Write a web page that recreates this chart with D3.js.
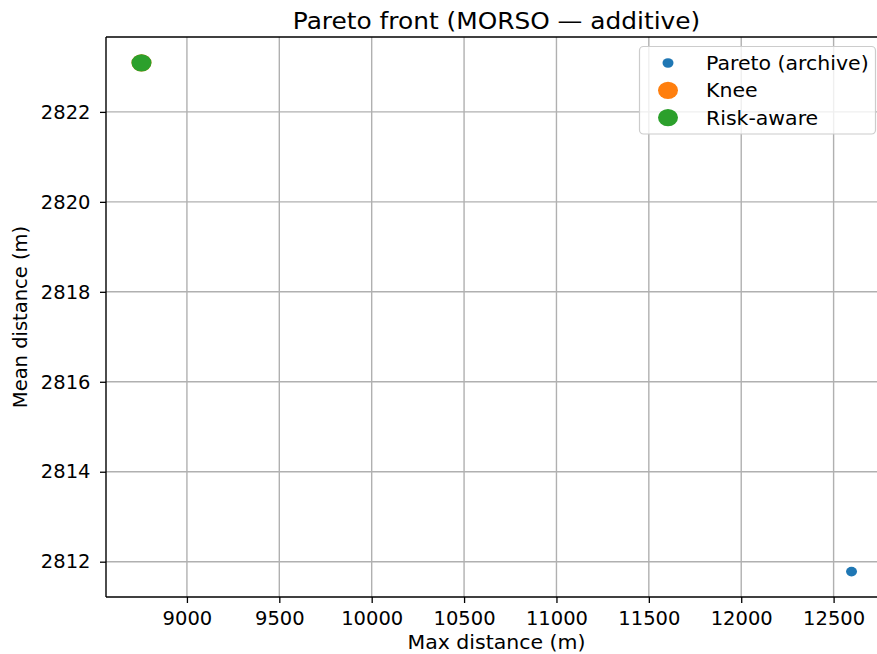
<!DOCTYPE html>
<html>
<head>
<meta charset="utf-8">
<script src="https://cdn.jsdelivr.net/npm/d3@7"></script>
<style>
  html, body { margin: 0; padding: 0; background: #fff; }
  svg { display: block; font-family: "DejaVu Sans", sans-serif; }
</style>
</head>
<body>
<svg id="chart" width="877" height="654"></svg>
<script>
// Objective values (max distance, mean distance) for each group of solutions
const paretoMax = [12597];
const paretoMean = [2811.78];
const kneeMax = [8754];
const kneeMean = [2823.09];
const riskMax = [8754];
const riskMean = [2823.09];

const xTicks = [9000, 9500, 10000, 10500, 11000, 11500, 12000, 12500];
const yTicks = [2812, 2814, 2816, 2818, 2820, 2822];

const colors = { pareto: "#1f77b4", knee: "#ff7f0e", risk: "#2ca02c" };
const legendItems = [
  { label: "Pareto (archive)", color: colors.pareto, rx: 5.5, ry: 4.8 },
  { label: "Knee", color: colors.knee, rx: 10, ry: 8.6 },
  { label: "Risk-aware", color: colors.risk, rx: 10, ry: 8.6 }
];

const svg = d3.select("#chart");
const plotL = 106, plotR = 887, plotT = 37, plotB = 597;

const x = d3.scaleLinear().domain([8562, 12789]).range([plotL, plotR]);
const y = d3.scaleLinear().domain([2811.215, 2823.665]).range([plotB, plotT]);

// grid
const grid = svg.append("g");
grid.selectAll("line.vx").data(xTicks).join("line")
  .attr("x1", d => x(d)).attr("x2", d => x(d))
  .attr("y1", plotT).attr("y2", plotB)
  .attr("stroke", "#b0b0b0").attr("stroke-width", 1.4);
grid.selectAll("line.hy").data(yTicks).join("line")
  .attr("x1", plotL).attr("x2", plotR)
  .attr("y1", d => y(d)).attr("y2", d => y(d))
  .attr("stroke", "#b0b0b0").attr("stroke-width", 1.4);

// axes
const xAxis = d3.axisBottom(x).tickValues(xTicks).tickSize(6).tickPadding(8).tickFormat(d3.format("d"));
const yAxis = d3.axisLeft(y).tickValues(yTicks).tickSize(6).tickPadding(9.5).tickFormat(d3.format("d"));

const gx = svg.append("g").attr("transform", `translate(0,${plotB})`).call(xAxis);
const gy = svg.append("g").attr("transform", `translate(${plotL},0)`).call(yAxis);
[gx, gy].forEach(g => {
  g.select(".domain").remove();
  g.selectAll(".tick line").attr("stroke", "#000").attr("stroke-width", 1.3);
  g.selectAll(".tick text").attr("fill", "#000").style("font-size", "19.5px")
    .style("font-family", "DejaVu Sans, sans-serif");
});

// spines
svg.append("line").attr("x1", plotL).attr("x2", plotL).attr("y1", plotT).attr("y2", plotB)
  .attr("stroke", "#000").attr("stroke-width", 1.4);
svg.append("line").attr("x1", plotL).attr("x2", plotR).attr("y1", plotB).attr("y2", plotB)
  .attr("stroke", "#000").attr("stroke-width", 1.4);
svg.append("line").attr("x1", plotL).attr("x2", plotR).attr("y1", plotT).attr("y2", plotT)
  .attr("stroke", "#000").attr("stroke-width", 1.4);

// points
const pts = svg.append("g");
pts.selectAll("ellipse.p").data(paretoMax.map((d, i) => [d, paretoMean[i]])).join("ellipse")
  .attr("cx", d => x(d[0])).attr("cy", d => y(d[1])).attr("rx", 5.5).attr("ry", 4.8)
  .attr("fill", colors.pareto);
pts.selectAll("ellipse.k").data(kneeMax.map((d, i) => [d, kneeMean[i]])).join("ellipse")
  .attr("cx", d => x(d[0])).attr("cy", d => y(d[1])).attr("rx", 10).attr("ry", 8.6)
  .attr("fill", colors.knee);
pts.selectAll("ellipse.r").data(riskMax.map((d, i) => [d, riskMean[i]])).join("ellipse")
  .attr("cx", d => x(d[0])).attr("cy", d => y(d[1])).attr("rx", 10).attr("ry", 8.6)
  .attr("fill", colors.risk);

// title and axis labels (slightly widened glyphs)
const cx = (plotL + plotR) / 2;
svg.append("text").attr("transform", `translate(${cx},28.5) scale(1.08,1)`)
  .attr("text-anchor", "middle").style("font-size", "23px")
  .text("Pareto front (MORSO — additive)");
svg.append("text").attr("transform", `translate(${cx},648.5) scale(1.05,1)`)
  .attr("text-anchor", "middle").style("font-size", "19.5px").text("Max distance (m)");
svg.append("text").attr("transform", `translate(27,${(plotT + plotB) / 2}) rotate(-90)`)
  .attr("text-anchor", "middle").style("font-size", "19.5px").text("Mean distance (m)");

// legend
const lg = svg.append("g");
lg.append("rect").attr("x", 639.5).attr("y", 46.5).attr("width", 236).attr("height", 87.5)
  .attr("rx", 4).attr("fill", "#fff").attr("fill-opacity", 0.8)
  .attr("stroke", "#cccccc").attr("stroke-width", 1.2);
legendItems.forEach((it, i) => {
  const cy = 63 + i * 27.3;
  lg.append("ellipse").attr("cx", 668).attr("cy", cy).attr("rx", it.rx).attr("ry", it.ry).attr("fill", it.color);
  lg.append("text").attr("transform", `translate(706,${cy + 7}) scale(1.05,1)`)
    .style("font-size", "19.5px").text(it.label);
});
</script>
</body>
</html>
